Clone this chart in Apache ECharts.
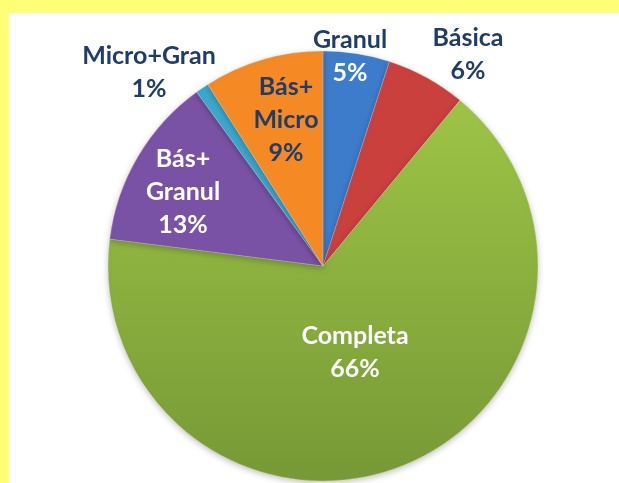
<!DOCTYPE html>
<html>
<head>
<meta charset="utf-8">
<script src="https://cdn.jsdelivr.net/npm/echarts@6/dist/echarts.min.js"></script>
<style>
  html, body { margin: 0; padding: 0; background: #ffff77; width: 619px; height: 483px; overflow: hidden; }
  #my_chart { position: absolute; left: 9px; top: 13px; width: 610px; height: 470px; background: #fff; }
</style>
</head>
<body>
<div id="my_chart"></div>
<script>
  // datos (porcentajes)
  var categories = ['Granul', 'Básica', 'Completa', 'Bás+ Granul', 'Micro+Gran', 'Bás+ Micro'];
  var values = [5, 6, 66, 13, 1, 9];

  // estilo
  var colors = ['#3d7ccb', '#c9403d', ['#9dc446', '#779936'], '#7a52a5', '#3aa8cc', '#f58a25'];
  var dark = '#1f3d6b';
  var nameColor = [dark, dark, '#fff', '#fff', dark, dark];
  var valColor = ['#fff', dark, '#fff', '#fff', dark, dark];
  // centro de cada etiqueta (px del grafico)
  var labelAt = [[341, 43], [459, 41], [346, 339], [174, 179], [140, 59], [277, 107]];

  var my_chart = echarts.init(document.getElementById('my_chart'));

  var seriesData = categories.map(function (c, i) {
    var col = colors[i];
    if (Array.isArray(col)) {
      col = new echarts.graphic.LinearGradient(0, 0, 0, 1, [
        { offset: 0, color: col[0] }, { offset: 1, color: col[1] }
      ]);
    }
    return {
      name: c,
      value: values[i],
      itemStyle: { color: col },
      label: {
        rich: {
          n: { color: nameColor[i], fontSize: 25, fontWeight: 'bold', fontFamily: 'Lato', lineHeight: 33, align: 'center' },
          v: { color: valColor[i], fontSize: 25, fontWeight: 'bold', fontFamily: 'Lato', lineHeight: 33, align: 'center' }
        }
      }
    };
  });

  my_chart.setOption({
    animation: false,
    series: [{
      type: 'pie',
      center: [314, 253],
      radius: 215,
      startAngle: 90,
      clockwise: true,
      data: seriesData,
      itemStyle: {
        borderColor: 'rgba(255,255,255,0.35)',
        borderWidth: 0.6,
        shadowBlur: 6,
        shadowColor: 'rgba(0,0,0,0.25)',
        shadowOffsetY: 2
      },
      label: {
        show: true,
        position: 'inside',
        formatter: function (p) {
          return p.name.split(' ').map(function (s) { return '{n|' + s + '}'; }).join('\n') + '\n{v|' + p.value + '%}';
        }
      },
      labelLine: { show: false },
      labelLayout: function (p) {
        var pos = labelAt[p.dataIndex];
        return { x: pos[0], y: pos[1], align: 'center', verticalAlign: 'middle' };
      }
    }]
  });
</script>
</body>
</html>
